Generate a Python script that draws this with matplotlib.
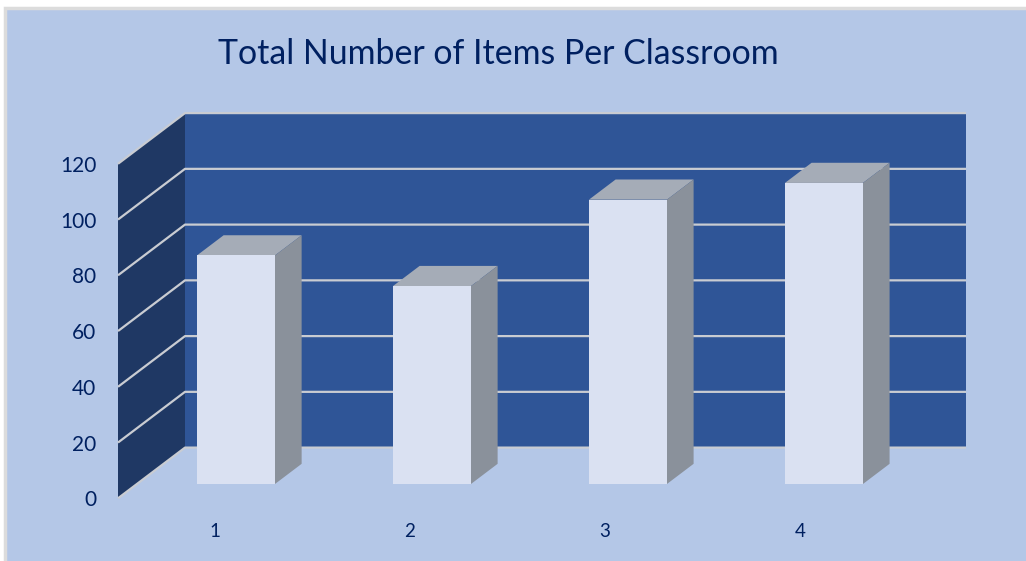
import matplotlib.pyplot as plt
from matplotlib.patches import Polygon, Rectangle

plt.rcParams['font.family'] = ['Lato', 'DejaVu Sans']

# datos
clases = [1, 2, 3, 4]
items = [82, 71, 102, 108]
ticks_y = [0, 20, 40, 60, 80, 100, 120]
titulo = 'Total Number of Items Per Classroom'

W, H = 1026, 561
AZUL_TXT = '#002060'
FONDO = '#b4c7e7'
PARED = '#2f5597'
LATERAL = '#1f3864'
LINEA = '#c9ccd2'

fig = plt.figure(figsize=(W / 100, H / 100), dpi=100, facecolor='white')
# el rectangulo se sale por abajo y por la derecha: el borde solo se ve arriba y a la izquierda
fig.add_artist(Rectangle((5 / W, -0.05), 1.1, 1.05 - 8 / H, transform=fig.transFigure,
                         facecolor=FONDO, edgecolor='#dcdcdc', linewidth=2.5, zorder=-1))

# el eje es el plano frontal del grafico 3D, en pixeles: x 118-899, y 164-498.3
ax = fig.add_axes([118 / W, 1 - 498.3 / H, 781 / W, 334.5 / H])
ax.set_facecolor('none')
for s in ax.spines.values():
    s.set_visible(False)

x0, x1 = 0.4945, 4.4795
ymax = 120
ax.set_xlim(x0, x1)
ax.set_ylim(0, ymax)

px_x = (x1 - x0) / 781
px_y = ymax / 334.5
fondo_dx = 67 * px_x
fondo_dy = 50.7 * px_y


def proy(x, v, d):
    # d=0 plano frontal, d=1 pared del fondo
    return x + d * fondo_dx, v + d * fondo_dy


def poli(puntos, **kw):
    ax.add_patch(Polygon([proy(*p) for p in puntos], closed=True, clip_on=False, **kw))


# pared del fondo y pared lateral
poli([(x0, 0, 1), (x1, 0, 1), (x1, ymax, 1), (x0, ymax, 1)], facecolor=PARED, edgecolor='none', zorder=1)
poli([(x0, 0, 0), (x0, 0, 1), (x0, ymax, 1), (x0, ymax, 0)], facecolor=LATERAL, edgecolor='none', zorder=1)

# lineas de la rejilla
for v in ticks_y:
    xs, ys = zip(proy(x0, v, 0), proy(x0, v, 1), proy(x1, v, 1))
    ax.plot(xs, ys, color=LINEA, lw=1.6, clip_on=False, zorder=2, solid_capstyle='butt')

# columnas
ancho = 0.199
d1, d2 = 0.282, 0.68
for c, v in zip(clases, items):
    a, b = c - ancho, c + ancho
    poli([(a, 0, d1), (b, 0, d1), (b, v, d1), (a, v, d1)], facecolor='#dae1f2', edgecolor='none', zorder=5)
    poli([(a, v, d1), (b, v, d1), (b, v, d2), (a, v, d2)], facecolor='#a5acb7', edgecolor='none', zorder=4)
    poli([(b, 0, d1), (b, 0, d2), (b, v, d2), (b, v, d1)], facecolor='#8a919b', edgecolor='none', zorder=4)

# etiquetas
ax.set_yticks(ticks_y)
ax.set_xticks([x0 + (215 + 195 * (c - 1) - 118) * px_x for c in clases])
ax.set_xticklabels(clases)
ax.tick_params(axis='y', length=0, pad=15.5, labelsize=15, labelcolor=AZUL_TXT)
ax.tick_params(axis='x', length=0, pad=18, labelsize=13.5, labelcolor=AZUL_TXT)

fig.text(498.5 / W, 1 - 54 / H, titulo, ha='center', va='center', fontsize=24.4, color=AZUL_TXT)

fig.savefig('out.png', dpi=100)
